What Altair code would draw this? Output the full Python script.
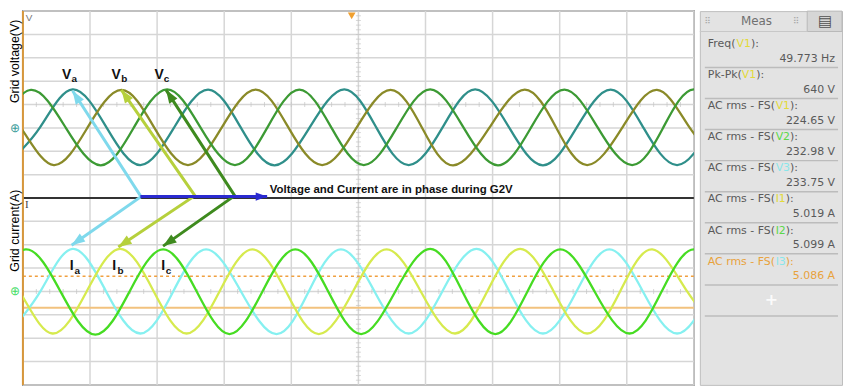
import math
import altair as alt
import pandas as pd

# ---------------- data read from the screen (time in ms, 10 ms/div) ----------------
# grid voltages (V) : key points (peaks, zero crossings, troughs)
va_t = [-2.5, 2.5, 7.4, 12.5, 17.5, 22.5, 27.6, 32.5, 37.5, 42.7, 47.9, 52.7, 57.5, 62.5, 67.4, 72.5, 77.5, 82.5, 87.6, 92.5, 97.5, 102.5]
va_v = [-320, 0, 330, 0, -318, 0, 328, 0, -320, 0, 330, 0, -318, 0, 330, 0, -320, 0, 328, 0, -318, 0]
vb_t = [-5.3, -0.3, 4.6, 9.6, 14.7, 19.6, 24.6, 29.6, 34.7, 39.6, 44.6, 49.7, 54.8, 59.5, 64.1, 69.5, 74.8, 79.5, 84.1, 89.3, 94.5, 99.4, 104.3]
vb_v = [320, 0, -318, 0, 325, 0, -318, 0, 328, 0, -318, 0, 325, 0, -320, 0, 328, 0, -318, 0, 325, 0, -318]
vc_t = [-8.8, -3.8, 1.2, 6.4, 11.6, 16.5, 21.5, 26.5, 31.6, 36.4, 41.2, 46.0, 50.8, 55.7, 60.7, 65.7, 70.8, 75.7, 80.7, 85.7, 90.8, 95.4, 100.0, 105.0]
vc_v = [-318, 0, 325, 0, -320, 0, 330, 0, -318, 0, 328, 0, -318, 0, 330, 0, -320, 0, 328, 0, -318, 0, 330, 0]

# grid currents (A)
ia_t = [-2.2, 2.6, 7.4, 12.4, 17.5, 22.4, 27.3, 32.5, 37.8, 42.6, 47.4, 52.4, 57.5, 62.5, 67.6, 72.5, 77.5, 82.5, 87.4, 92.4, 97.5, 102.5]
ia_v = [-7.2, 0, 7.3, 0, -7.2, 0, 7.2, 0, -7.3, 0, 7.2, 0, -7.2, 0, 7.3, 0, -7.2, 0, 7.2, 0, -7.2, 0]
ib_t = [-5.5, -0.5, 4.4, 9.5, 14.5, 19.5, 24.4, 29.3, 34.2, 39.2, 44.1, 49.2, 54.2, 59.3, 64.4, 69.2, 74.1, 79.1, 84.1, 89.0, 93.8, 99.0, 104.1]
ib_v = [7.2, 0, -7.2, 0, 7.3, 0, -7.2, 0, 7.2, 0, -7.3, 0, 7.2, 0, -7.2, 0, 7.3, 0, -7.2, 0, 7.2, 0, -7.2]
ic_t = [-10.0, -4.8, 0.4, 5.6, 10.8, 15.9, 20.9, 25.9, 30.8, 35.7, 40.6, 45.5, 50.4, 55.5, 60.7, 65.5, 70.4, 75.2, 80.1, 85.2, 90.4, 95.2, 100.0, 105.0]
ic_v = [-7.2, 0, 7.2, 0, -7.4, 0, 7.2, 0, -7.3, 0, 7.2, 0, -7.3, 0, 7.3, 0, -7.3, 0, 7.2, 0, -7.2, 0, 7.2, 0]

# cursor levels (A)
cursor_dotted = 2.6
cursor_solid = -2.8

# annotation arrows (time ms, screen divisions 0..16 from bottom)
arr_id = ["a", "a", "a", "b", "b", "b", "c", "c", "c", "d", "d"]
arr_seq = [0, 1, 2, 0, 1, 2, 0, 1, 2, 0, 1]
arr_t = [7.4, 17.6, 7.26, 14.67, 25.63, 14.22, 21.33, 31.56, 20.89, 17.5, 36.4]
arr_d = [12.59, 8.06, 5.98, 12.63, 8.10, 5.90, 12.63, 8.10, 5.94, 8.06, 8.06]

# phase labels
lab_main = ["V", "V", "V", "I", "I", "I"]
lab_sub = ["a", "b", "c", "a", "b", "c"]
lab_t = [6.5, 13.9, 20.3, 7.26, 13.6, 20.9]
lab_d = [13.26, 13.26, 13.26, 5.07, 5.07, 5.07]
sub_t = [7.26, 14.67, 21.0, 7.7, 14.1, 21.3]
sub_d = [13.09, 13.09, 13.09, 4.86, 4.86, 4.86]

# measurement panel
meas_prefix = ["Freq(", "Pk-Pk(", "AC rms - FS(", "AC rms - FS(", "AC rms - FS(", "AC rms - FS(", "AC rms - FS(", "AC rms - FS("]
meas_src = ["V1", "V1", "V1", "V2", "V3", "I1", "I2", "I3"]
meas_value = ["49.773 Hz", "640 V", "224.65 V", "232.98 V", "233.75 V", "5.019 A", "5.099 A", "5.086 A"]

# ---------------- styling ----------------
W, H = 675, 376
PXH = W / 100.0
PXV = H / 16.0

series = ["Va", "Vb", "Vc", "Ia", "Ib", "Ic", "arr_a", "arr_b", "arr_c", "arr_d"]
colors = ["#2f8f8a", "#8a8a28", "#3c9a34", "#86f0f0", "#d6ea4e", "#46dc22",
          "#7fd9ec", "#b6d03c", "#3e8a1e", "#2a2ad0"]
color_sc = alt.Scale(domain=series, range=colors)

x_sc = alt.Scale(domain=[0, 100], nice=False, zero=False)
div_sc = alt.Scale(domain=[0, 16], nice=False, zero=False)
v_sc = alt.Scale(domain=[-2200, 1000], nice=False, zero=False)
i_sc = alt.Scale(domain=[-16, 48], nice=False, zero=False)

FONT = "Liberation Sans"

# graticule
gx = pd.DataFrame({"t": list(range(0, 101, 10))})
gy = pd.DataFrame({"d": list(range(0, 17))})
grid_x = alt.Chart(gx).mark_rule(color="#d6d6d6", strokeWidth=1.5).encode(
    x=alt.X("t:Q", scale=x_sc, axis=None))
grid_y = alt.Chart(gy).mark_rule(color="#d6d6d6", strokeWidth=1.5).encode(
    y=alt.Y("d:Q", scale=div_sc, axis=None))

minor_t = [i * 2 for i in range(51)]
mt_df = pd.DataFrame({"t": minor_t * 2, "d": [12] * 51 + [4] * 51})
minor_x = alt.Chart(mt_df).mark_tick(orient="vertical", size=5, thickness=1, color="#c4c4c4").encode(
    x=alt.X("t:Q", scale=x_sc, axis=None), y=alt.Y("d:Q", scale=div_sc, axis=None))
minor_d = [i * 0.2 for i in range(81)]
md_df = pd.DataFrame({"t": [50] * 81, "d": minor_d})
minor_y = alt.Chart(md_df).mark_tick(orient="horizontal", size=5, thickness=1, color="#c4c4c4").encode(
    x=alt.X("t:Q", scale=x_sc, axis=None), y=alt.Y("d:Q", scale=div_sc, axis=None))

sep = alt.Chart(pd.DataFrame({"d": [8]})).mark_rule(color="#333333", strokeWidth=2).encode(
    y=alt.Y("d:Q", scale=div_sc, axis=None))
left_border = alt.Chart(pd.DataFrame({"t": [0]})).mark_rule(color="#d8973a", strokeWidth=2).encode(
    x=alt.X("t:Q", scale=x_sc, axis=None))

cur_dot = alt.Chart(pd.DataFrame({"i": [cursor_dotted]})).mark_rule(color="#f0a040", strokeWidth=1.3, strokeDash=[3, 3]).encode(
    y=alt.Y("i:Q", scale=i_sc, axis=None))
cur_sol = alt.Chart(pd.DataFrame({"i": [cursor_solid]})).mark_rule(color="#f2c27e", strokeWidth=2).encode(
    y=alt.Y("i:Q", scale=i_sc, axis=None))

# waveforms
volt_df = pd.concat([
    pd.DataFrame({"t": va_t, "v": va_v, "s": "Va"}),
    pd.DataFrame({"t": vb_t, "v": vb_v, "s": "Vb"}),
    pd.DataFrame({"t": vc_t, "v": vc_v, "s": "Vc"}),
])
curr_df = pd.concat([
    pd.DataFrame({"t": ia_t, "i": ia_v, "s": "Ia"}),
    pd.DataFrame({"t": ib_t, "i": ib_v, "s": "Ib"}),
    pd.DataFrame({"t": ic_t, "i": ic_v, "s": "Ic"}),
])
volt = alt.Chart(volt_df).mark_line(interpolate="natural", strokeWidth=2.3, clip=True).encode(
    x=alt.X("t:Q", scale=x_sc, axis=None),
    y=alt.Y("v:Q", scale=v_sc, axis=None),
    color=alt.Color("s:N", scale=color_sc, legend=None))
curr = alt.Chart(curr_df).mark_line(interpolate="natural", strokeWidth=2.3, clip=True).encode(
    x=alt.X("t:Q", scale=x_sc, axis=None),
    y=alt.Y("i:Q", scale=i_sc, axis=None),
    color=alt.Color("s:N", scale=color_sc, legend=None))

# arrows
arr_df = pd.DataFrame({"id": ["arr_" + a for a in arr_id], "seq": arr_seq, "t": arr_t, "d": arr_d})
arr_lines = alt.Chart(arr_df).mark_line(strokeWidth=3).encode(
    x=alt.X("t:Q", scale=x_sc, axis=None),
    y=alt.Y("d:Q", scale=div_sc, axis=None),
    detail="id:N", order="seq:Q",
    color=alt.Color("id:N", scale=color_sc, legend=None))

heads = []
def _head(ident, tip, frm, size):
    dx = (tip[0] - frm[0]) * PXH
    dy = -(tip[1] - frm[1]) * PXV
    ang = math.degrees(math.atan2(dx, -dy)) % 360
    heads.append({"id": "arr_" + ident, "t": tip[0], "d": tip[1], "ang": ang, "sz": size})

pts = {}
for a, s, t, d in zip(arr_id, arr_seq, arr_t, arr_d):
    pts.setdefault(a, {})[s] = (t, d)
for a in ["a", "b", "c"]:
    _head(a, pts[a][0], pts[a][1], 150)
    _head(a, pts[a][2], pts[a][1], 150)
_head("d", pts["d"][1], pts["d"][0], 110)
head_df = pd.DataFrame(heads)
arr_heads = alt.Chart(head_df).mark_point(
    shape="M0,0L0.8,2.2L-0.8,2.2Z", filled=True, opacity=1, strokeWidth=0).encode(
    x=alt.X("t:Q", scale=x_sc, axis=None),
    y=alt.Y("d:Q", scale=div_sc, axis=None),
    angle=alt.Angle("ang:Q", scale=None),
    size=alt.Size("sz:Q", scale=None),
    color=alt.Color("id:N", scale=color_sc, legend=None))

# texts
main_lab = alt.Chart(pd.DataFrame({"t": lab_t, "d": lab_d, "txt": lab_main})).mark_text(
    font=FONT, fontSize=14, fontWeight="bold", color="#111111", align="center", baseline="middle").encode(
    x=alt.X("t:Q", scale=x_sc, axis=None), y=alt.Y("d:Q", scale=div_sc, axis=None), text="txt:N")
sub_lab = alt.Chart(pd.DataFrame({"t": sub_t, "d": sub_d, "txt": lab_sub})).mark_text(
    font=FONT, fontSize=10, fontWeight="bold", color="#111111", align="left", baseline="middle").encode(
    x=alt.X("t:Q", scale=x_sc, axis=None), y=alt.Y("d:Q", scale=div_sc, axis=None), text="txt:N")
note = alt.Chart(pd.DataFrame({"t": [36.8], "d": [8.35], "txt": ["Voltage and Current are in phase during G2V"]})).mark_text(
    font=FONT, fontSize=11.5, fontWeight="bold", color="#111111", align="left", baseline="middle").encode(
    x=alt.X("t:Q", scale=x_sc, axis=None), y=alt.Y("d:Q", scale=div_sc, axis=None), text="txt:N")

ytitles = alt.Chart(pd.DataFrame({"t": [-1.19, -1.19], "d": [13.85, 6.6],
                                  "txt": ["Grid voltage(V)", "Grid current(A)"]})).mark_text(
    font=FONT, fontSize=12.5, color="#000000", angle=270, align="center", baseline="middle").encode(
    x=alt.X("t:Q", scale=x_sc, axis=None), y=alt.Y("d:Q", scale=div_sc, axis=None), text="txt:N")

pane_v = alt.Chart(pd.DataFrame({"t": [0.9], "d": [15.72], "txt": ["V"]})).mark_text(
    font=FONT, fontSize=10, color="#777777", align="center", baseline="middle").encode(
    x=alt.X("t:Q", scale=x_sc, axis=None), y=alt.Y("d:Q", scale=div_sc, axis=None), text="txt:N")
pane_i = alt.Chart(pd.DataFrame({"t": [0.6], "d": [7.69], "txt": ["I"]})).mark_text(
    font="Liberation Serif", fontSize=11, color="#444444", align="center", baseline="middle").encode(
    x=alt.X("t:Q", scale=x_sc, axis=None), y=alt.Y("d:Q", scale=div_sc, axis=None), text="txt:N")

gnd_v = alt.Chart(pd.DataFrame({"t": [-1.2], "v": [0], "txt": ["⊕"]})).mark_text(
    fontSize=12, color="#3a9c9a", align="center", baseline="middle").encode(
    x=alt.X("t:Q", scale=x_sc, axis=None), y=alt.Y("v:Q", scale=v_sc, axis=None), text="txt:N")
gnd_i = alt.Chart(pd.DataFrame({"t": [-1.2], "i": [0], "txt": ["⊕"]})).mark_text(
    fontSize=12, color="#44dd66", align="center", baseline="middle").encode(
    x=alt.X("t:Q", scale=x_sc, axis=None), y=alt.Y("i:Q", scale=i_sc, axis=None), text="txt:N")

trig = alt.Chart(pd.DataFrame({"t": [49.0], "d": [15.8]})).mark_point(
    shape="triangle-down", filled=True, size=60, color="#f0a030", opacity=1).encode(
    x=alt.X("t:Q", scale=x_sc, axis=None), y=alt.Y("d:Q", scale=div_sc, axis=None))

main = alt.layer(
    grid_x, grid_y, minor_x, minor_y, cur_dot, cur_sol, sep, left_border,
    volt, curr, arr_lines, arr_heads, main_lab, sub_lab, note, ytitles, pane_v, pane_i,
    gnd_v, gnd_i, trig,
).resolve_scale(y="independent").properties(
    width=W, height=H,
    view=alt.ViewBackground(fill="white", stroke="#555555", strokeWidth=1.5))

# ---------------- measurement panel ----------------
PW = 143
px_sc = alt.Scale(domain=[0, PW], nice=False, zero=False)
py_sc = alt.Scale(domain=[2, 387], reverse=True, nice=False, zero=False)

EM = {"F": .575, "r": .411, "e": .615, "q": .635, "(": .390, ")": .390, ":": .337, "P": .603,
      "k": .579, "-": .361, "A": .684, "C": .698, " ": .318, "m": .974, "s": .521, "S": .635,
      "V": .684, "I": .295, "1": .636, "2": .636, "3": .636}
PFS = 11
def tw(s):
    return sum(EM.get(c, .6) for c in s) * PFS

src_col = {"V1": "#e2da3a", "V2": "#5cd84a", "V3": "#8ae6ea", "I1": "#e2da3a", "I2": "#5cd84a", "I3": "#8ae6ea"}
rows = []
for k, (pre, src, val) in enumerate(zip(meas_prefix, meas_src, meas_value)):
    base = "#e8a23c" if k == 7 else "#5a5a5a"
    ly, vy = 36 + 32 * k, 51 + 32 * k
    x0 = 8
    rows.append({"x": x0, "y": ly, "txt": pre, "col": base, "al": "left"})
    rows.append({"x": x0 + tw(pre), "y": ly, "txt": src, "col": src_col[src], "al": "left"})
    rows.append({"x": x0 + tw(pre) + tw(src), "y": ly, "txt": "):", "col": base, "al": "left"})
    rows.append({"x": PW - 7, "y": vy, "txt": val, "col": base, "al": "right"})
rows_df = pd.DataFrame(rows)

left_rows = alt.Chart(rows_df[rows_df["al"] == "left"]).mark_text(
    font="DejaVu Sans", fontSize=PFS, align="left", baseline="middle").encode(
    x=alt.X("x:Q", scale=px_sc, axis=None), y=alt.Y("y:Q", scale=py_sc, axis=None),
    text="txt:N", color=alt.Color("col:N", scale=None))
right_rows = alt.Chart(rows_df[rows_df["al"] == "right"]).mark_text(
    font="DejaVu Sans", fontSize=PFS, align="right", baseline="middle").encode(
    x=alt.X("x:Q", scale=px_sc, axis=None), y=alt.Y("y:Q", scale=py_sc, axis=None),
    text="txt:N", color=alt.Color("col:N", scale=None))

seps = [60 + 32 * k for k in range(8)] + [316]
sep_df = pd.DataFrame({"x": [5] * len(seps), "x2": [PW - 4] * len(seps), "y": seps})
sep_lines = alt.Chart(sep_df).mark_rule(color="#bcbcbc", strokeWidth=1.5).encode(
    x=alt.X("x:Q", scale=px_sc, axis=None), x2="x2:Q", y=alt.Y("y:Q", scale=py_sc, axis=None))

hdr_line = alt.Chart(pd.DataFrame({"x": [0], "x2": [108], "y": [23]})).mark_rule(color="#c8c8c8", strokeWidth=1).encode(
    x=alt.X("x:Q", scale=px_sc, axis=None), x2="x2:Q", y=alt.Y("y:Q", scale=py_sc, axis=None))
tab = alt.Chart(pd.DataFrame({"x": [108], "x2": [PW], "y": [2], "y2": [23]})).mark_rect(
    fill="#d6d6d6", stroke="#b8b8b8", strokeWidth=1).encode(
    x=alt.X("x:Q", scale=px_sc, axis=None), x2="x2:Q",
    y=alt.Y("y:Q", scale=py_sc, axis=None), y2="y2:Q")
hdr_txt = alt.Chart(pd.DataFrame({"x": [57, 8, 97, 126], "y": [12, 12, 12, 12],
                                  "txt": ["Meas", "⠿", "⠿", "▤"],
                                  "col": ["#707070", "#a8a8a8", "#a8a8a8", "#505050"],
                                  "fs": [12, 9, 9, 15]})).mark_text(
    font="DejaVu Sans", align="center", baseline="middle").encode(
    x=alt.X("x:Q", scale=px_sc, axis=None), y=alt.Y("y:Q", scale=py_sc, axis=None),
    text="txt:N", color=alt.Color("col:N", scale=None), size=alt.Size("fs:Q", scale=None))
plus = alt.Chart(pd.DataFrame({"x": [72], "y": [300], "txt": ["+"]})).mark_text(
    font="DejaVu Sans", fontSize=16, fontWeight="bold", color="#fbfbfb", align="center", baseline="middle").encode(
    x=alt.X("x:Q", scale=px_sc, axis=None), y=alt.Y("y:Q", scale=py_sc, axis=None), text="txt:N")

panel = alt.layer(tab, hdr_line, hdr_txt, sep_lines, left_rows, right_rows, plus).properties(
    width=PW, height=H,
    view=alt.ViewBackground(fill="#e3e3e3", stroke="#bdbdbd", strokeWidth=1))

chart = alt.hconcat(main, panel, spacing=3).properties(
    padding={"left": 0, "top": 0, "right": 0, "bottom": 0},
    background="white")

chart.save("out.html", embed_options={"renderer": "svg", "actions": False})
